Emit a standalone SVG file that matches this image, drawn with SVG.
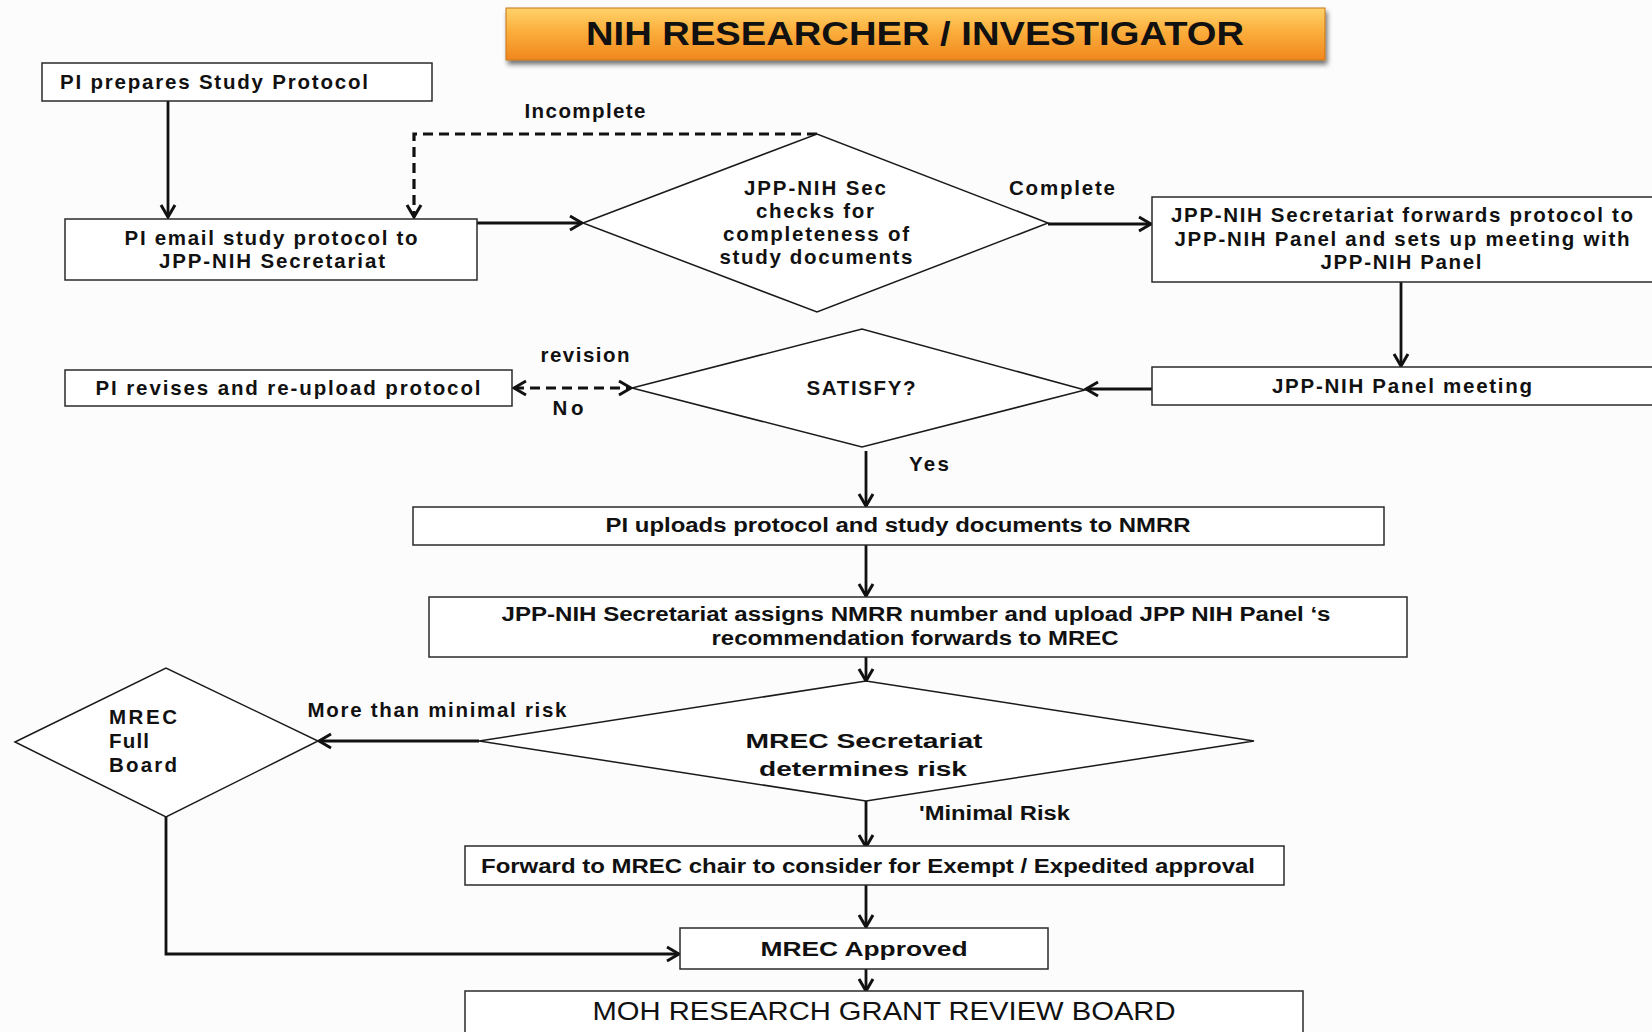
<svg xmlns="http://www.w3.org/2000/svg" width="1652" height="1032" viewBox="0 0 1652 1032" xml:space="preserve">
<defs>
<linearGradient id="gOrange" x1="0" y1="0" x2="0" y2="1">
<stop offset="0" stop-color="#FFD36A"/>
<stop offset="0.45" stop-color="#FBAE3C"/>
<stop offset="1" stop-color="#F0871E"/>
</linearGradient>
<filter id="shadow" x="-5%" y="-30%" width="110%" height="170%">
<feGaussianBlur in="SourceAlpha" stdDeviation="2.5"/>
<feOffset dx="2" dy="4" result="b"/>
<feComponentTransfer><feFuncA type="linear" slope="0.55"/></feComponentTransfer>
<feMerge><feMergeNode/><feMergeNode in="SourceGraphic"/></feMerge>
</filter>
<marker id="arr" viewBox="0 0 18 18" markerUnits="userSpaceOnUse" markerWidth="18" markerHeight="18" refX="16" refY="9" orient="auto-start-reverse">
<path d="M4,2 L16,9 L4,16" fill="none" stroke="#111" stroke-width="3" stroke-linejoin="miter"/>
</marker>
</defs>
<style>
.box{fill:#fff;stroke:#2a2a2a;stroke-width:1.5}
.dia{fill:#fff;stroke:#1a1a1a;stroke-width:1.5}
.t{font-family:"Liberation Sans",Arial,sans-serif;font-weight:bold;font-size:20.5px;fill:#111}
.n{font-family:"Liberation Sans",Arial,sans-serif;font-weight:bold;font-size:20px;fill:#111}
.c{text-anchor:middle}
.line{fill:none;stroke:#111;stroke-width:2.8}
.dash{fill:none;stroke:#111;stroke-width:3.2;stroke-dasharray:10 6}
</style>
<rect x="0" y="0" width="1652" height="1032" fill="#fcfcfc"/>
<g id="title">
<rect x="506" y="8" width="819" height="52" fill="url(#gOrange)" stroke="#c7741a" stroke-width="1" filter="url(#shadow)"/>
<text x="915" y="45" class="c" font-family="Liberation Sans,Arial,sans-serif" font-weight="bold" font-size="33" fill="#111" textLength="658" lengthAdjust="spacingAndGlyphs">NIH RESEARCHER / INVESTIGATOR</text>
</g>
<g id="connectors">
<path class="line" d="M168,101 V217" marker-end="url(#arr)"/>
<path class="dash" d="M817,134 H414 V217" marker-end="url(#arr)"/>
<path class="line" d="M477,223 H582" marker-end="url(#arr)"/>
<path class="line" d="M1048,224 H1151" marker-end="url(#arr)"/>
<path class="line" d="M1401,282 V366" marker-end="url(#arr)"/>
<path class="line" d="M1152,389 H1086" marker-end="url(#arr)"/>
<path class="dash" d="M514,388 H631" marker-start="url(#arr)" marker-end="url(#arr)"/>
<path class="line" d="M866,451 V506" marker-end="url(#arr)"/>
<path class="line" d="M866,545 V596" marker-end="url(#arr)"/>
<path class="line" d="M866,657 V681" marker-end="url(#arr)"/>
<path class="line" d="M479,741 H319" marker-end="url(#arr)"/>
<path class="line" d="M866,801 V847" marker-end="url(#arr)"/>
<path class="line" d="M166,817 V954 H679" marker-end="url(#arr)"/>
<path class="line" d="M866,885 V927" marker-end="url(#arr)"/>
<path class="line" d="M866,969 V991" marker-end="url(#arr)"/>
<text class="t c" x="585" y="118" textLength="121">Incomplete</text>
<text class="t c" x="1062" y="195" textLength="106">Complete</text>
<text class="t c" x="585" y="362" textLength="89">revision</text>
<text class="t c" x="568" y="415" textLength="31">No</text>
<text class="t c" x="929" y="471" textLength="40">Yes</text>
<text class="t c" x="437" y="717" textLength="259">More than minimal  risk</text>
<text class="n" x="919" y="820" textLength="151" lengthAdjust="spacingAndGlyphs">'Minimal  Risk</text>
</g>
<g id="n-prepare">
<rect class="box" x="42" y="63" width="390" height="38"/>
<text class="t" x="60" y="89" textLength="308">PI prepares Study Protocol</text>
</g>
<g id="n-email">
<rect class="box" x="65" y="219" width="412" height="61"/>
<text class="t c" x="271" y="245" textLength="293">PI email  study protocol to</text>
<text class="t c" x="272" y="268" textLength="226">JPP-NIH Secretariat</text>
</g>
<g id="n-check">
<polygon class="dia" points="583,223 817,134 1048,223 817,312"/>
<text class="t c" x="815" y="195" textLength="142">JPP-NIH Sec</text>
<text class="t c" x="815" y="218" textLength="118">checks for</text>
<text class="t c" x="816" y="241" textLength="186">completeness  of</text>
<text class="t c" x="816" y="264" textLength="193">study documents</text>
</g>
<g id="n-forward">
<rect class="box" x="1152" y="197" width="510" height="85"/>
<text class="t c" x="1402" y="222" textLength="462">JPP-NIH Secretariat forwards protocol to</text>
<text class="t c" x="1402" y="246" textLength="455">JPP-NIH Panel and sets up meeting with</text>
<text class="t c" x="1401" y="269" textLength="161">JPP-NIH Panel</text>
</g>
<g id="n-meeting">
<rect class="box" x="1152" y="367" width="510" height="38"/>
<text class="t c" x="1402" y="393" textLength="260">JPP-NIH Panel meeting</text>
</g>
<g id="n-satisfy">
<polygon class="dia" points="632,388 862,329 1085,390 862,447"/>
<text class="t c" x="861" y="395" textLength="109">SATISFY?</text>
</g>
<g id="n-revise">
<rect class="box" x="65" y="370" width="447" height="36"/>
<text class="t c" x="288" y="395" textLength="385">PI revises  and re-upload protocol</text>
</g>
<g id="n-upload">
<rect class="box" x="413" y="507" width="971" height="38"/>
<text class="n c" x="898" y="532" textLength="585" lengthAdjust="spacingAndGlyphs">PI uploads  protocol  and study documents  to NMRR</text>
</g>
<g id="n-assign">
<rect class="box" x="429" y="597" width="978" height="60"/>
<text class="n c" x="916" y="621" textLength="829" lengthAdjust="spacingAndGlyphs">JPP-NIH  Secretariat assigns  NMRR number  and  upload  JPP NIH Panel ‘s</text>
<text class="n c" x="915" y="645" textLength="407" lengthAdjust="spacingAndGlyphs">recommendation   forwards to MREC</text>
</g>
<g id="n-risk">
<polygon class="dia" points="479,741 866,681 1254,741 866,801"/>
<text class="n c" x="864" y="748" font-size="25" textLength="237" lengthAdjust="spacingAndGlyphs">MREC Secretariat</text>
<text class="n c" x="863" y="776" font-size="25" textLength="208" lengthAdjust="spacingAndGlyphs">determines risk</text>
</g>
<g id="n-fullboard">
<polygon class="dia" points="15,742 166,668 318,741 166,817"/>
<text class="t" x="109" y="724" textLength="68">MREC</text>
<text class="t" x="109" y="748" textLength="40">Full</text>
<text class="t" x="109" y="772" textLength="68">Board</text>
</g>
<g id="n-chair">
<rect class="box" x="465" y="846" width="819" height="39"/>
<text class="n c" x="868" y="873" textLength="774" lengthAdjust="spacingAndGlyphs">Forward to MREC chair  to consider for Exempt / Expedited approval</text>
</g>
<g id="n-approved">
<rect class="box" x="680" y="928" width="368" height="41"/>
<text class="n c" x="864" y="956" textLength="207" lengthAdjust="spacingAndGlyphs">MREC Approved</text>
</g>
<g id="n-moh">
<rect class="box" x="465" y="991" width="838" height="50"/>
<text class="c" x="884" y="1020" font-family="Liberation Sans,Arial,sans-serif" font-size="25" fill="#111" textLength="583" lengthAdjust="spacingAndGlyphs">MOH RESEARCH  GRANT  REVIEW BOARD</text>
</g>
</svg>
